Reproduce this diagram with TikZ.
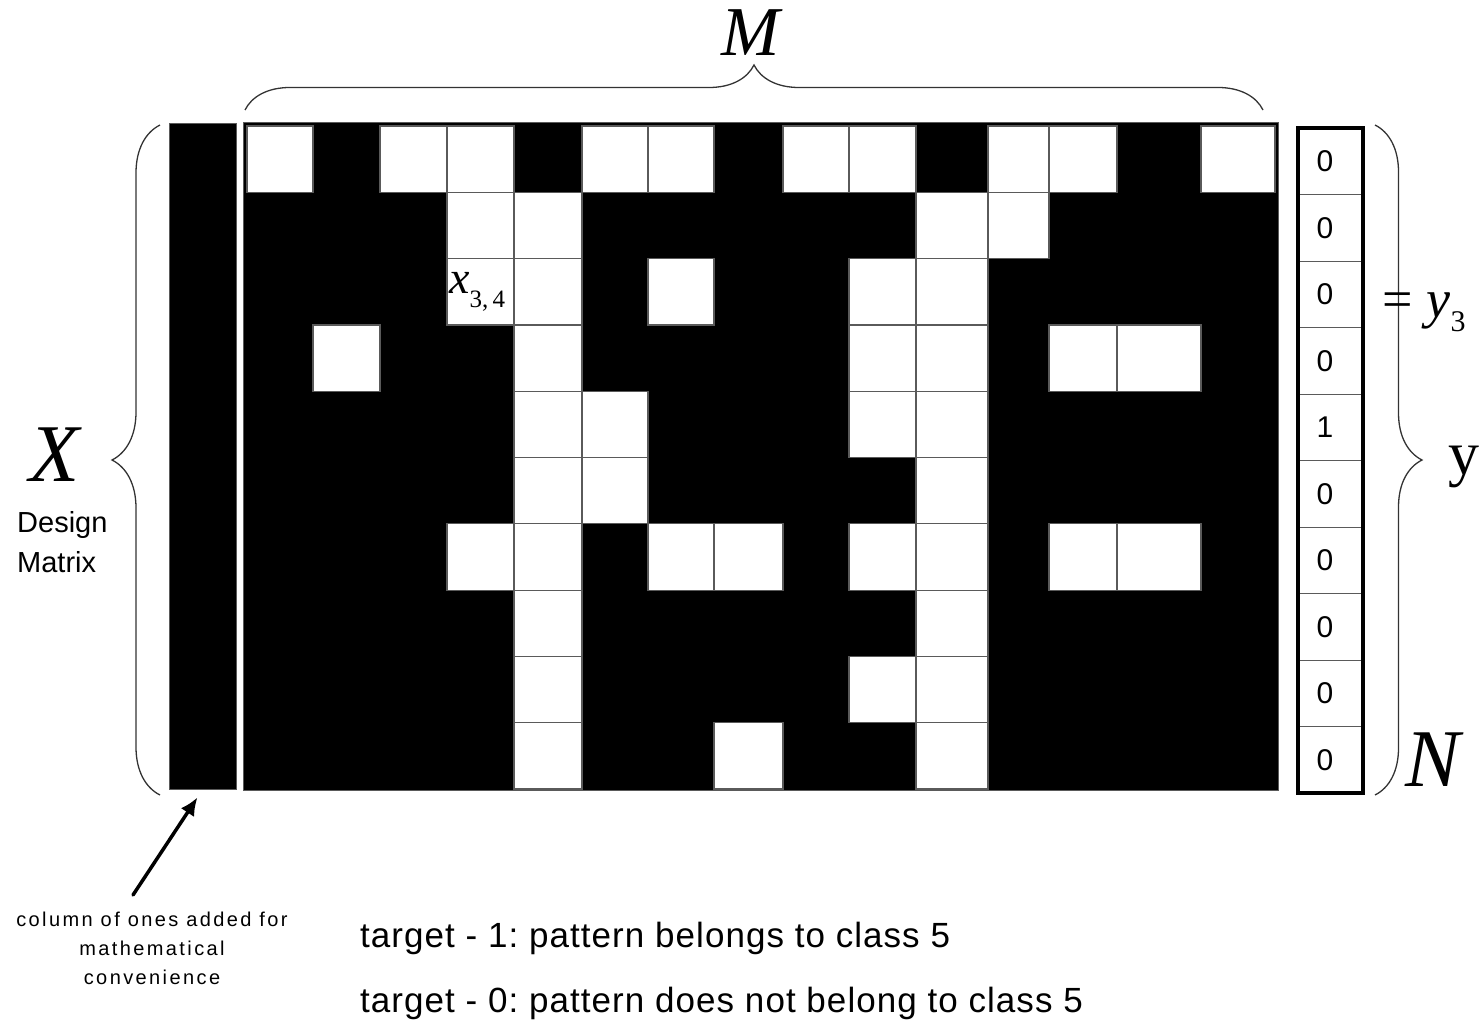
\documentclass[tikz,border=0pt]{standalone}
\usepackage{fontspec}
\setmainfont{Liberation Serif}
\setsansfont{Liberation Sans}
\newfontfamily\capfont[LetterSpace=12]{Liberation Sans}
\newfontfamily\tgtfont[LetterSpace=3]{Liberation Sans}
\usepackage{tikz}
\usetikzlibrary{arrows.meta,calc,decorations.pathreplacing}
\definecolor{gridgray}{HTML}{5A5A5A}
\definecolor{bracegray}{HTML}{333333}
\frenchspacing

\begin{document}
\begin{tikzpicture}[x=1pt, y=-1pt,
  blk/.style={rectangle, fill=black, draw=gridgray, line width=0.8pt, inner sep=0pt},
  wc/.style={fill=white, draw=gridgray, line width=1.2pt},
  dig/.style={inner sep=0pt, font=\sffamily\fontsize{30}{30}\selectfont},
  brc/.style={decorate, decoration={brace, amplitude=#1}, draw=bracegray, line width=1.3pt},
  lbl/.style={inner sep=0pt, font=\fontsize{#1}{#1}\selectfont\itshape},
  txt/.style={inner sep=0pt, font=\tgtfont\fontsize{35}{40}\selectfont},
  ptr/.style={-{Latex[length=18pt,width=16pt]}, line width=3.5pt, line cap=round}
]
\useasboundingbox (0,0) rectangle (1483,1027);

% column of ones + design matrix
\node[blk, minimum width=67pt, minimum height=666pt] (ones) at (202.5,456) {};
\node[blk, minimum width=1035pt, minimum height=668pt] (mat) at (760.5,456) {};

% white pixels, row/columns
\def\colx{{247,313,380,447,514,582,648,714,783,849,916,988,1049,1117,1201,1275}}
\foreach \r/\cs in {1/{1,3,4,6,7,9,10,12,13,15}, 2/{4,5,11,12}, 3/{4,5,7,10,11},
    4/{2,5,10,11,13,14}, 5/{5,6,10,11}, 6/{5,6,11}, 7/{4,5,7,8,10,11,13,14},
    8/{5,11}, 9/{5,10,11}, 10/{5,8,11}}
  \foreach \c in \cs {
    \pgfmathsetmacro\xa{\colx[\c-1]}
    \pgfmathsetmacro\xb{\colx[\c]}
    \pgfmathsetmacro\ya{126+(\r-1)*66.3}
    \draw[wc] (\xa,\ya) rectangle (\xb,\ya+66.3);
  }
\node[anchor=base west, inner sep=0pt] (x34) at (449,293)
  {{\fontsize{46}{46}\selectfont\itshape x}\raisebox{-14pt}{\fontsize{25}{25}\selectfont 3,\,4}};

% target vector
\coordinate (vtl) at (1298,128);
\coordinate (vbr) at (1363,793);
\foreach \i in {1,...,9}
  \draw[gridgray, line width=0.8pt] (1298,{128+\i*66.5}) -- (1363,{128+\i*66.5});
\foreach \d [count=\i] in {0,0,0,0,1,0,0,0,0,0}
  \node[dig] (y\i) at (1325,{128+(\i-0.5)*66.5}) {\d};
\draw[line width=3.5pt] (vtl) rectangle (vbr);

% braces
\draw[brc=45] (245,110) -- (1263,110);
\draw[brc=48] (160,795) -- (160,125);
\draw[brc=47] (1375,125) -- (1375,795);

% labels
\node[lbl=70] (M) at (751,33) {M};
\node[lbl=82] (X) at (55,455) {X};
\node[lbl=82] (N) at (1433,760) {N};
\node[inner sep=0pt, font=\fontsize{62}{62}\selectfont] (yv) at (1464,467) {y};
\node[anchor=base west, inner sep=0pt] (y3) at (1382,317)
  {\fontsize{54}{54}\selectfont =\hspace{14pt}\textit{y}\raisebox{-14pt}{\fontsize{30}{30}\selectfont 3}};
\node[anchor=north west, align=left, inner sep=0pt, font=\sffamily\fontsize{29}{40}\selectfont] (dm) at (17,511) {Design\\Matrix};

% note on the ones column
\node[align=center, inner sep=0pt, font=\capfont\fontsize{20}{29}\selectfont] (note) at (152,948)
  {column of ones added for\\mathematical\\convenience};
\coordinate (tail) at (133,895);
\draw[ptr] (tail) -- ([xshift=-5pt,yshift=-8pt]ones.south);

% targets
\node[txt, anchor=base west] (t1) at (360,947) {target - 1: pattern belongs to class 5};
\node[txt, anchor=base west] (t0) at (360,1012) {target - 0: pattern does not belong to class 5};
\end{tikzpicture}
\end{document}
